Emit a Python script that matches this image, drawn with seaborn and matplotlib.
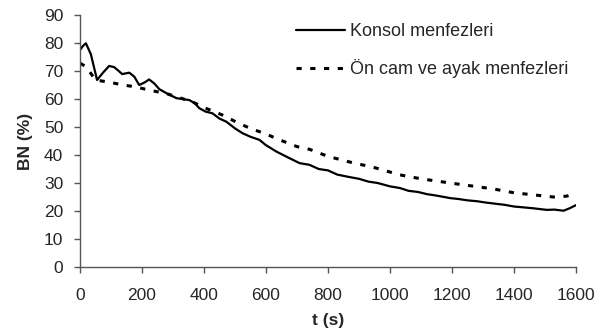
import matplotlib
matplotlib.use("Agg")
import matplotlib.pyplot as plt
import seaborn as sns
import pandas as pd

sns.set_style("ticks")
plt.rcParams['font.family'] = ['Liberation Sans', 'DejaVu Sans']

t_konsol = [0, 10, 19, 35, 55, 75, 94, 110, 125, 136, 159, 175, 191, 210, 223, 240, 256, 280, 311, 330, 353, 370, 385, 405, 427, 450, 472, 500, 524, 550, 579, 600, 634, 666,
            708, 740, 770, 800, 830, 870, 900, 930, 960, 1000, 1032, 1060, 1090, 1120, 1150, 1194, 1220, 1250, 1280, 1310, 1340, 1370, 1400, 1430, 1460, 1490, 1507, 1530, 1560, 1580, 1600]
v_konsol = [77.5, 79.0, 79.9, 76.0, 66.8, 69.5, 71.8, 71.4, 70.0, 68.9, 69.4, 68.0, 65.0, 66.0, 67.0, 65.5, 63.5, 62.0, 60.3, 60.0, 59.6, 58.5, 56.7, 55.5, 54.9, 53.0, 51.9, 49.5, 47.8, 46.5, 45.4, 43.5, 41.2, 39.4,
            37.1, 36.5, 35.0, 34.5, 33.0, 32.1, 31.5, 30.5, 30.0, 28.8, 28.2, 27.2, 26.8, 26.0, 25.5, 24.6, 24.3, 23.8, 23.5, 23.0, 22.6, 22.2, 21.6, 21.3, 21.0, 20.6, 20.4, 20.5, 20.1, 21.0, 22.1]

t_on = [0, 20, 50, 94, 140, 180, 230, 277, 320, 362, 410, 459, 500, 547, 600, 644, 700, 741, 800, 870, 950, 1032, 1100, 1194, 1260, 1333, 1400, 1460, 1527, 1570, 1600]
v_on = [72.8, 71.5, 66.8, 66.0, 65.0, 64.3, 63.0, 62.0, 60.5, 59.0, 56.5, 54.3, 52.0, 49.6, 47.5, 45.4, 43.0, 42.0, 39.5, 37.5, 35.5, 32.9, 31.5, 30.0, 29.0, 27.9, 26.5, 25.8, 25.0, 25.3, 26.4]

df1 = pd.DataFrame({"t": t_konsol, "v": v_konsol})
df2 = pd.DataFrame({"t": t_on, "v": v_on})

fig = plt.figure(figsize=(6.08, 3.34), dpi=100)
ax = fig.add_axes([80 / 608, 1 - 267 / 334, 496 / 608, 252 / 334])

sns.lineplot(data=df1, x="t", y="v", ax=ax, color="black", linewidth=1.6, label="Konsol menfezleri")
sns.lineplot(data=df2, x="t", y="v", ax=ax, color="black", linewidth=2.2, linestyle=(0, (1.7, 2.8)), label="Ön cam ve ayak menfezleri")

ax.set_xlim(0, 1600)
ax.set_ylim(0, 90)
ax.set_xticks(range(0, 1601, 200))
ax.set_yticks(range(0, 91, 10))
ax.tick_params(labelsize=12.5, length=4, width=1, color="#555555")
ax.tick_params(axis="x", pad=11)
ax.tick_params(axis="y", pad=8)
ax.set_xlabel("t (s)", fontsize=12.5, fontweight="bold", labelpad=7)
ax.set_ylabel("BN (%)", fontsize=12.5, fontweight="bold", labelpad=8)
for s in ["top", "right"]:
    ax.spines[s].set_visible(False)
for s in ["left", "bottom"]:
    ax.spines[s].set_color("#555555")
    ax.spines[s].set_linewidth(1)

ax.legend(loc="upper right", bbox_to_anchor=(1.0, 0.995), frameon=False, fontsize=13,
          handlelength=2.7, handletextpad=0.3, labelspacing=1.05, borderaxespad=0)

fig.savefig("out.png", dpi=100)
